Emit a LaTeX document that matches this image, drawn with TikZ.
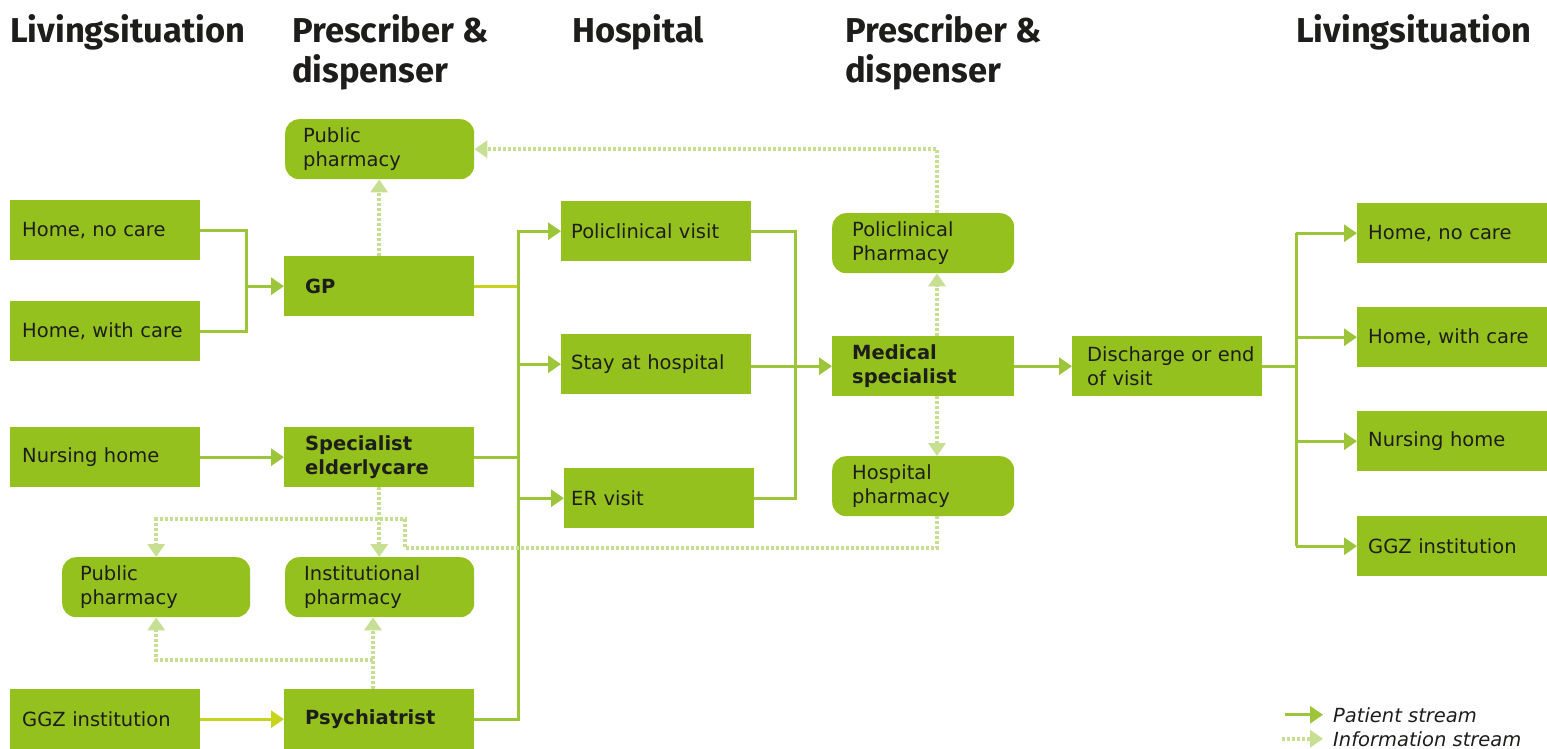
\documentclass[tikz,border=0pt]{standalone}
\usepackage{fontspec}
\setmainfont{DejaVu Sans}
\newfontfamily\headfont{Fira Sans}
\usetikzlibrary{arrows.meta}
\definecolor{leaf}{HTML}{95C11F}
\definecolor{flow}{HTML}{9CC53A}
\definecolor{lime}{HTML}{C8D41C}
\definecolor{infocol}{HTML}{C6DF92}
\definecolor{ink}{HTML}{1D1D1B}

\begin{document}
\begin{tikzpicture}[x=1pt,y=-1pt,
  every node/.style={text=ink, font=\fontsize{19.5}{24}\selectfont},
  box/.style={fill=leaf, anchor=north west, minimum height=60pt, inner sep=0pt,
    text width=190pt, execute at begin node={\leftskip=#1\rightskip=0pt plus 1fil\relax}},
  rbox/.style={box=#1, rounded corners=14pt},
  bold/.style={font=\fontsize{19.5}{24}\selectfont\bfseries},
  head/.style={anchor=base west, inner sep=0pt, align=left,
    font=\headfont\bfseries\fontsize{34.5}{40}\selectfont},
  legend/.style={anchor=base west, inner sep=0pt, font=\fontsize{19.5}{24}\selectfont\itshape},
  pat/.style={draw=flow, line width=3pt},
  patarrow/.style={pat, -{Triangle[length=13pt,width=17pt]}},
  infoline/.style={draw=infocol, line width=4pt, dash pattern=on 3pt off 2pt},
  infoarrow/.style={infoline, -{Triangle[length=13pt,width=17pt]}},
]
\useasboundingbox (0,0) rectangle (1547,749);

% column headings (base anchor sits on the last line)
\node[head] (h1) at (10,43) {Livingsituation};
\node[head] (h2) at (292,83) {Prescriber \&\\dispenser};
\node[head] (h3) at (572,43) {Hospital};
\node[head] (h4) at (845,83) {Prescriber \&\\dispenser};
\node[head] (h5) at (1296,43) {Livingsituation};

% living situation (origin)
\node[box=12pt] (hnc) at (10,200) {Home, no care};
\node[box=12pt] (hwc) at (10,301) {Home, with care};
\node[box=12pt] (nh)  at (10,427) {Nursing home};
\node[box=12pt] (ggz) at (10,689) {GGZ institution};
\node[rbox=18pt, text width=188pt] (lph) at (62,557) {Public\\pharmacy};

% prescribers and dispensers
\node[rbox=18pt, text width=189pt] (pph) at (285,119) {Public\\pharmacy};
\node[box=21pt, bold] (gp)  at (284,256) {GP};
\node[box=21pt, bold] (sec) at (284,427) {Specialist\\elderlycare};
\node[rbox=19pt, text width=189pt] (iph) at (285,557) {Institutional\\pharmacy};
\node[box=21pt, bold] (psy) at (284,689) {Psychiatrist};

% hospital
\node[box=10pt] (pv)   at (561,201) {Policlinical visit};
\node[box=10pt] (stay) at (561,334) {Stay at hospital};
\node[box=7pt]  (er)   at (564,468) {ER visit};

% hospital prescriber and dispensers
\node[rbox=20pt, text width=182pt] (ppc) at (832,213) {Policlinical\\Pharmacy};
\node[box=20pt, bold, text width=182pt] (ms) at (832,336) {Medical\\specialist};
\node[rbox=20pt, text width=182pt] (hph) at (832,456) {Hospital\\pharmacy};

\node[box=15pt] (dis) at (1072,336) {Discharge or end\\of visit};

% living situation (destination)
\node[box=11pt] (r1) at (1357,203) {Home, no care};
\node[box=11pt] (r2) at (1357,307) {Home, with care};
\node[box=11pt] (r3) at (1357,411) {Nursing home};
\node[box=11pt] (r4) at (1357,516) {GGZ institution};

% routing columns
\coordinate (colA) at (246,0);
\coordinate (tk)   at (518,0);
\coordinate (colB) at (795,0);
\coordinate (colC) at (1296,0);
\coordinate (colD) at (937,0);
\coordinate (colG) at (373,0);
\coordinate (e1) at (405,548);
\coordinate (e2) at (405,519);
\coordinate (g1) at (373,660);

% patient stream
\draw[pat] (hnc.east) -| (gp.west -| colA);
\draw[pat] (hwc.east) -| (gp.west -| colA);
\draw[patarrow] (gp.west -| colA) -- (gp.west);
\draw[patarrow] (nh.east) -- (sec.west);
\draw[patarrow, draw=lime] (ggz.east) -- (psy.west);

\draw[pat, draw=lime] (gp.east) -- (gp.east -| tk);
\draw[pat] (sec.east) -- (sec.east -| tk);
\draw[patarrow] (psy.east) -| (pv.west -| tk) -- (pv.west);
\draw[patarrow] (stay.west -| tk) -- (stay.west);
\draw[patarrow] (er.west -| tk) -- (er.west);

\draw[pat] (pv.east) -| (er.east -| colB) -- (er.east);
\draw[patarrow] (ms.west -| stay.east) -- (ms.west);
\draw[patarrow] (ms.east) -- (dis.west);

\draw[pat] (dis.east) -- (dis.east -| colC);
\draw[pat] (r1.west -| colC) -- (r4.west -| colC);
\foreach \r in {r1,r2,r3,r4}
  \draw[patarrow] (\r.west -| colC) -- (\r.west);

% information stream
\draw[infoarrow] (gp.north) -- (gp.north |- pph.south);
\draw[infoarrow] (ppc.north -| colD) |- (pph.east);
\draw[infoarrow] (ms.north -| colD) -- (ppc.south -| colD);
\draw[infoarrow] (ms.south -| colD) -- (hph.north -| colD);
\draw[infoarrow] (hph.south -| colD) |- (e1) -- (e2) -| (lph.north);
\draw[infoarrow] (sec.south) -- (sec.south |- iph.north);
\draw[infoarrow] (psy.north -| colG) -- (iph.south -| colG);
\draw[infoarrow] (g1) -| (lph.south);

% legend
\node[legend] (lpat) at (1333,722) {Patient stream};
\node[legend] (linf) at (1333,746) {Information stream};
\draw[patarrow] ([xshift=-48pt]lpat.west) -- ([xshift=-10pt]lpat.west);
\draw[infoarrow] ([xshift=-51pt]linf.west) -- ([xshift=-10pt]linf.west);
\end{tikzpicture}
\end{document}
